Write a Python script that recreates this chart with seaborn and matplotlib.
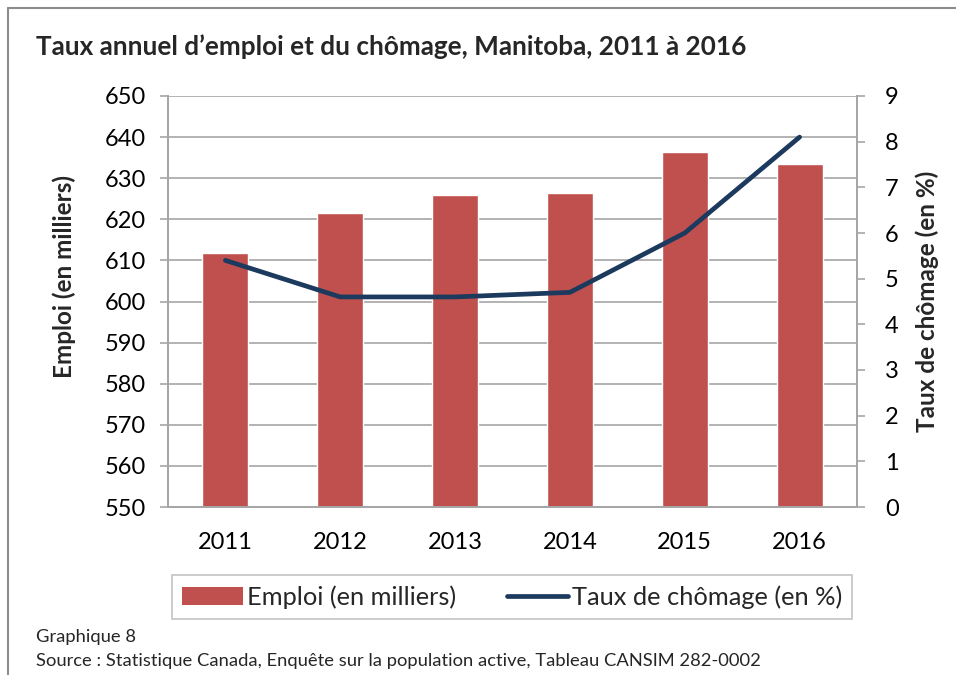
import numpy as np
import pandas as pd
import matplotlib
matplotlib.use("Agg")
import matplotlib.pyplot as plt
import seaborn as sns
from matplotlib.lines import Line2D
from matplotlib.patches import Patch

# Data
years = ["2011", "2012", "2013", "2014", "2015", "2016"]
emploi = [611.7, 621.5, 625.8, 626.5, 636.3, 633.5]
taux = [5.4, 4.6, 4.6, 4.7, 6.0, 8.1]

df = pd.DataFrame({"annee": years, "emploi": emploi, "taux": taux})
df["pos"] = np.arange(len(years))

sns.set_theme(style="white")
plt.rcParams["font.family"] = ["Lato", "DejaVu Sans"]

bar_color = "#C0504D"
line_color = "#1C3A5E"
grid_color = "#A6A6A6"

fig = plt.figure(figsize=(9.56, 6.75), dpi=100)
ax = fig.add_axes([168 / 956, 1 - 507 / 675, 689 / 956, 411 / 675])

sns.barplot(data=df, x="annee", y="emploi", color=bar_color, width=0.4,
            saturation=1, ax=ax, zorder=2)
ax.set_ylim(550, 650)
ax.set_yticks(np.arange(550, 651, 10))
ax.set_xlim(-0.5, len(years) - 0.5)
ax.yaxis.grid(True, color=grid_color, linewidth=1.2, zorder=0)
ax.set_axisbelow(True)
ax.set_xlabel("")
ax.set_ylabel("Emploi (en milliers)", fontsize=17.5, fontweight="bold")
ax.yaxis.set_label_coords(-0.134, 0.56)

ax2 = ax.twinx()
sns.lineplot(data=df, x="pos", y="taux", color=line_color, linewidth=3.4,
             solid_capstyle="round", ax=ax2)
ax2.set_ylim(0, 9)
ax2.set_yticks(np.arange(0, 10, 1))
ax2.set_xlim(-0.5, len(years) - 0.5)
ax2.set_ylabel("Taux de chômage (en %)", fontsize=17.5, fontweight="bold", labelpad=12)
ax2.set_xlabel("")

for a in (ax, ax2):
    for side in ("left", "right", "bottom"):
        a.spines[side].set_visible(True)
        a.spines[side].set_color(grid_color)
        a.spines[side].set_linewidth(1.4)
    a.spines["top"].set_visible(False)

ax.tick_params(axis="y", which="major", direction="out", length=6, width=1.2,
               color=grid_color, labelsize=17, pad=10, labelcolor="black")
ax2.tick_params(axis="y", which="major", direction="out", length=6, width=1.2,
                color=grid_color, labelsize=17, pad=14, labelcolor="black")
ax.set_xticks(np.arange(-0.5, len(years), 1), minor=True)
ax.tick_params(axis="x", which="minor", direction="out", length=7, width=1.2,
               color=grid_color)
ax.tick_params(axis="x", which="major", length=0, labelsize=17, pad=18,
               labelcolor="black")

fig.text(36 / 956, 1 - 47 / 675, "Taux annuel d\u2019emploi et du chômage, Manitoba, 2011 à 2016",
         fontsize=18.8, fontweight="bold", va="center", ha="left")

handles = [Patch(facecolor=bar_color, edgecolor="none"),
           Line2D([0], [0], color=line_color, linewidth=3.4, solid_capstyle="round")]
leg = fig.legend(handles, ["Emploi (en milliers)", "Taux de chômage (en %)"],
                 loc="center", bbox_to_anchor=(512 / 956, 1 - 597 / 675), ncol=2,
                 fontsize=18.3, frameon=True, fancybox=False, edgecolor="#BFBFBF",
                 handlelength=2.4, handletextpad=0.15, columnspacing=2.0,
                 borderpad=0.4, borderaxespad=0)
leg.get_frame().set_linewidth(1.4)

fig.text(36 / 956, 1 - 637 / 675, "Graphique 8", fontsize=13.2, va="center", ha="left")
fig.text(36 / 956, 1 - 661 / 675,
         "Source : Statistique Canada, Enquête sur la population active, Tableau CANSIM 282-0002",
         fontsize=13.2, va="center", ha="left")

# outer frame (left and top edges)
fig.add_artist(Line2D([8 / 956, 8 / 956], [0, 1 - 8 / 675], transform=fig.transFigure,
                      color="#8C8C8C", linewidth=1.5))
fig.add_artist(Line2D([8 / 956, 1], [1 - 8 / 675, 1 - 8 / 675], transform=fig.transFigure,
                      color="#8C8C8C", linewidth=1.5))

fig.savefig("out.png", dpi=100)
